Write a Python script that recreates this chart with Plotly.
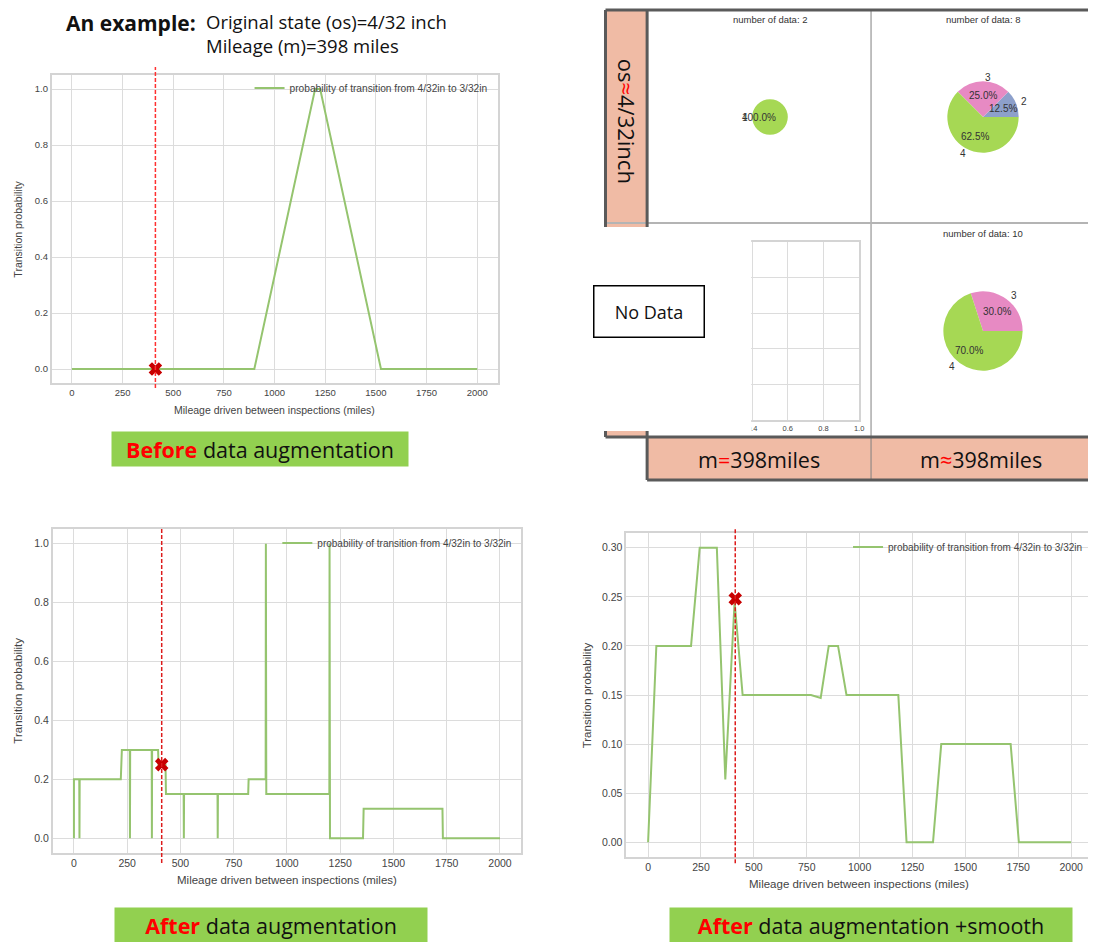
import numpy as np
import plotly.graph_objects as go

# ---- data ----
legend_name = "probability of transition from 4/32in to 3/32in"
current_miles = 412          # where the dashed line / red cross sits

before_miles = [0, 900, 1200, 1225, 1525, 2000]
before_prob = [0, 0, 1.0, 1.0, 0, 0]
before_cross = 0.0

after_miles = [0, 0, 25, 26, 27, 220, 225, 262, 263, 264, 365, 366, 367, 395, 397, 430, 432,
               515, 516, 517, 674, 675, 676, 818, 820, 900, 901, 903, 1199, 1200, 1202,
               1357, 1360, 1730, 1732, 2000]
after_prob = [0, 0.2, 0.2, 0, 0.2, 0.2, 0.3, 0.3, 0, 0.3, 0.3, 0, 0.3, 0.3, 0.25, 0.25, 0.15,
              0.15, 0, 0.15, 0.15, 0, 0.15, 0.15, 0.2, 0.2, 1.0, 0.15, 0.15, 1.0, 0,
              0, 0.1, 0.1, 0, 0]
after_cross = 0.25

smooth_miles = [0, 39, 203, 244, 325, 365, 409, 447, 770, 816, 854, 898, 938, 1183, 1222,
                1347, 1386, 1714, 1753, 2000]
smooth_prob = [0, 0.2, 0.2, 0.3, 0.3, 0.064, 0.245, 0.15, 0.15, 0.147, 0.2, 0.2, 0.15, 0.15, 0,
               0, 0.1, 0.1, 0, 0]
smooth_cross = 0.248

mile_ticks = [0, 250, 500, 750, 1000, 1250, 1500, 1750, 2000]

pie_titles = ["number of data: 2", "number of data: 8", "number of data: 10"]
pie_labels = [["4"], ["2", "3", "4"], ["3", "4"]]
pie_values = [[2], [1, 2, 5], [3, 7]]
state_colors = {"2": "#8da0cb", "3": "#e78ac3", "4": "#a6d854"}

# ---- page geometry: the page body has an 8px margin, so the figure is shifted ----
OFF = 8
W, H = 1096 - OFF, 942 - OFF

def fx(p):
    return (p - OFF) / W

def fy(p):
    return 1 - (p - OFF) / H

GREEN = "#95c46f"
SALMON = "#f0bba5"
DARK = "#5a5a5a"
FONT = "Liberation Sans"
TXT = "Open Sans"

fig = go.Figure()

# line charts
charts = [
    ("x", "y", before_miles, before_prob, before_cross, "legend"),
    ("x2", "y2", after_miles, after_prob, after_cross, "legend2"),
    ("x3", "y3", smooth_miles, smooth_prob, smooth_cross, "legend3"),
]
for xa, ya, xs, ys, cross, leg in charts:
    fig.add_trace(go.Scatter(x=xs, y=ys, mode="lines", xaxis=xa, yaxis=ya,
                             line=dict(color=GREEN, width=2), name=legend_name,
                             legend=leg, hoverinfo="skip"))
    fig.add_trace(go.Scatter(x=[current_miles], y=[cross], mode="markers", xaxis=xa, yaxis=ya,
                             marker=dict(symbol="x", size=12, color="#c80000",
                                         line=dict(width=0)),
                             showlegend=False, hoverinfo="skip"))

# empty axes in the "no data" cell
fig.add_trace(go.Scatter(x=[], y=[], xaxis="x4", yaxis="y4", showlegend=False))

# pies (matplotlib style: start at 3 o'clock, counter-clockwise)
pie_geom = [(772, 117, 18), (987, 117, 36), (987, 331, 40)]
pie_title_pos = [(772, 20), (987, 20), (987, 233)]
annotations = []
for (cx, cy, r), labels, values in zip(pie_geom, pie_labels, pie_values):
    v = np.array(values, float)
    frac = v / v.sum()
    fig.add_trace(go.Pie(labels=labels, values=values, sort=False,
                         direction="counterclockwise", rotation=90 - 360 * frac[0],
                         marker=dict(colors=[state_colors[l] for l in labels],
                                     line=dict(width=0)),
                         textinfo="none", hoverinfo="skip", showlegend=False,
                         domain=dict(x=[fx(cx - r), fx(cx + r)], y=[fy(cy + r), fy(cy - r)])))
    mid = 2 * np.pi * (np.cumsum(frac) - frac / 2)
    for lab, f, th in zip(labels, frac, mid):
        lx, ly = cx + 1.1 * r * np.cos(th), cy - 1.1 * r * np.sin(th)
        annotations.append(dict(x=fx(lx), y=fy(ly), xref="paper", yref="paper", text=lab,
                                showarrow=False, xanchor="left" if np.cos(th) > 0 else "right",
                                yanchor="middle", font=dict(family=FONT, size=10, color="#333")))
        tx, ty = cx + 0.6 * r * np.cos(th), cy - 0.6 * r * np.sin(th)
        annotations.append(dict(x=fx(tx), y=fy(ty), xref="paper", yref="paper",
                                text="%.1f%%" % (f * 100), showarrow=False,
                                xanchor="center", yanchor="middle",
                                font=dict(family=FONT, size=10, color="#333")))

for t, (tx, ty) in zip(pie_titles, pie_title_pos):
    annotations.append(dict(x=fx(tx), y=fy(ty), xref="paper", yref="paper", text=t,
                            showarrow=False, xanchor="center", yanchor="middle",
                            font=dict(family=FONT, size=9.5, color="#333")))

# axis styling
def ax_style(size):
    return dict(showgrid=True, gridcolor="#dcdcdc", gridwidth=1, zeroline=False,
                showline=True, linecolor="#d4d4d4", linewidth=1.5, mirror=True, ticks="",
                tickfont=dict(family=FONT, size=size, color="#444"))

layout_axes = dict(
    xaxis=dict(ax_style(9.5), domain=[fx(47), fx(497)], anchor="y", range=[-100, 2100],
               tickvals=mile_ticks),
    yaxis=dict(ax_style(9.5), domain=[fy(383), fy(75)], anchor="x", range=[-0.05, 1.05],
               tickvals=[0, 0.2, 0.4, 0.6, 0.8, 1.0], tickformat=".1f"),
    xaxis2=dict(ax_style(10.5), domain=[fx(48), fx(521)], anchor="y2", range=[-100, 2100],
                tickvals=mile_ticks),
    yaxis2=dict(ax_style(10.5), domain=[fy(853), fy(529)], anchor="x2", range=[-0.05, 1.05],
                tickvals=[0, 0.2, 0.4, 0.6, 0.8, 1.0], tickformat=".1f"),
    xaxis3=dict(ax_style(10.5), domain=[fx(627), 1.0], anchor="y3", range=[-103, 2094],
                tickvals=mile_ticks),
    yaxis3=dict(ax_style(10.5), domain=[fy(857), fy(533)], anchor="x3", range=[-0.015, 0.315],
                tickvals=[0, 0.05, 0.1, 0.15, 0.2, 0.25, 0.3], tickformat=".2f", mirror=False),
    xaxis4=dict(ax_style(7.5), domain=[fx(682), fx(862)], anchor="y4", range=[0, 1],
                tickvals=[0, 0.2, 0.4, 0.6, 0.8, 1.0], tickformat=".1f"),
    yaxis4=dict(ax_style(7.5), domain=[fy(420), fy(242)], anchor="x4", range=[0, 1],
                tickvals=[0, 0.2, 0.4, 0.6, 0.8, 1.0], showticklabels=False),
)

# axis titles
xtitle = "Mileage driven between inspections (miles)"
for xa, ya, size, shift, yshift in [("x", "y", 10.5, -26, -19), ("x2", "y2", 11.5, -27, -19),
                                    ("x3", "y3", 11.5, -31, -19)]:
    annotations.append(dict(x=0.5, y=0, xref=xa + " domain", yref=ya + " domain",
                            text=xtitle, showarrow=False, xanchor="center", yanchor="top",
                            yshift=yshift, font=dict(family=FONT, size=size, color="#444")))
    annotations.append(dict(x=0, y=0.5, xref=xa + " domain", yref=ya + " domain",
                            text="Transition probability", showarrow=False, textangle=-90,
                            xanchor="right", yanchor="middle", xshift=shift,
                            font=dict(family=FONT, size=size, color="#444")))

# dashed lines at the current mileage
shapes = []
for xa, ya, y0, y1, col in [("x", "y", -0.016, 1.026, "#ff3030"),
                            ("x2", "y2", -0.031, 1.006, "#dd1c1c"),
                            ("x3", "y3", -0.019, 1.015, "#dd1c1c")]:
    shapes.append(dict(type="line", xref=xa, yref=ya + " domain", x0=current_miles,
                       x1=current_miles, y0=y0, y1=y1, layer="above",
                       line=dict(color=col, width=1.5, dash="4px,2px")))

# table frame of the pie panel
def rect(x0, y0, x1, y1, fill):
    return dict(type="rect", xref="paper", yref="paper", x0=fx(x0), x1=fx(x1),
                y0=fy(y1), y1=fy(y0), fillcolor=fill, layer="above", line=dict(width=0))

def hline(x0, x1, y, color, width):
    return dict(type="line", xref="paper", yref="paper", x0=fx(x0), x1=fx(x1),
                y0=fy(y), y1=fy(y), layer="above", line=dict(color=color, width=width))

def vline(x, y0, y1, color, width):
    return dict(type="line", xref="paper", yref="paper", x0=fx(x), x1=fx(x),
                y0=fy(y0), y1=fy(y1), layer="above", line=dict(color=color, width=width))

shapes += [
    rect(606, 10, 648, 437, SALMON),
    rect(648, 437, 1100, 480, SALMON),
    vline(874, 10, 480, "#808080", 1),
    hline(606, 1100, 223, "#b4b4b4", 2),
    hline(606, 1100, 10, DARK, 3),
    vline(606, 10, 437, DARK, 3),
    vline(648, 10, 480, DARK, 3),
    hline(606, 1100, 437, DARK, 3),
    hline(648, 1100, 480, DARK, 3),
    rect(590, 227, 753, 431, "white"),   # pasted-over blank area
]

# panel texts
def ptext(x, y, text, size, **kw):
    d = dict(x=fx(x), y=fy(y), xref="paper", yref="paper", text=text, showarrow=False,
             xanchor="center", yanchor="middle", font=dict(family=TXT, size=size, color="#111"))
    d.update(kw)
    return d

RED = "<span style='color:#ff0000'>%s</span>"
annotations += [
    ptext(628, 121, "os" + RED % "≈" + "4/32inch", 22, textangle=90),
    ptext(761, 459, "m" + RED % "=" + "398miles", 21.5),
    ptext(985, 459, "m" + RED % "≈" + "398miles", 21.5),
    ptext(650, 311, "No Data", 18, width=109, height=50, bgcolor="white",
          bordercolor="black", borderwidth=1.5, borderpad=0),
    ptext(60, OFF, "<b>An example:</b>", 21, xanchor="left", yanchor="top", borderpad=0),
    ptext(202, OFF, "Original state (os)=4/32 inch<br>Mileage (m)=398 miles", 18.5,
          xanchor="left", yanchor="top", align="left", borderpad=0),
    ptext(257, 449, "<b>" + RED % "Before" + "</b> data augmentation", 21.5,
          width=296, height=34, bgcolor="#92d050", borderpad=0),
    ptext(268, 925, "<b>" + RED % "After" + "</b> data augmentation", 21.5,
          width=312, height=34, bgcolor="#92d050", borderpad=0),
    ptext(874, 925, "<b>" + RED % "After" + "</b> data augmentation +smooth", 21.5,
          width=402, height=34, bgcolor="#92d050", borderpad=0),
]

def leg(x, y, size):
    return dict(x=fx(x), y=fy(y), xanchor="right", yanchor="middle", bgcolor="rgba(0,0,0,0)",
                font=dict(family=FONT, size=size, color="#444"), itemwidth=30)

fig.update_layout(
    width=W, height=H, margin=dict(l=0, r=0, t=0, b=0),
    paper_bgcolor="white", plot_bgcolor="white",
    legend=leg(492, 88, 10.2), legend2=leg(516, 543, 10), legend3=leg(1092, 547, 10),
    shapes=shapes, annotations=annotations, **layout_axes,
)

fig.write_html("out.html")
